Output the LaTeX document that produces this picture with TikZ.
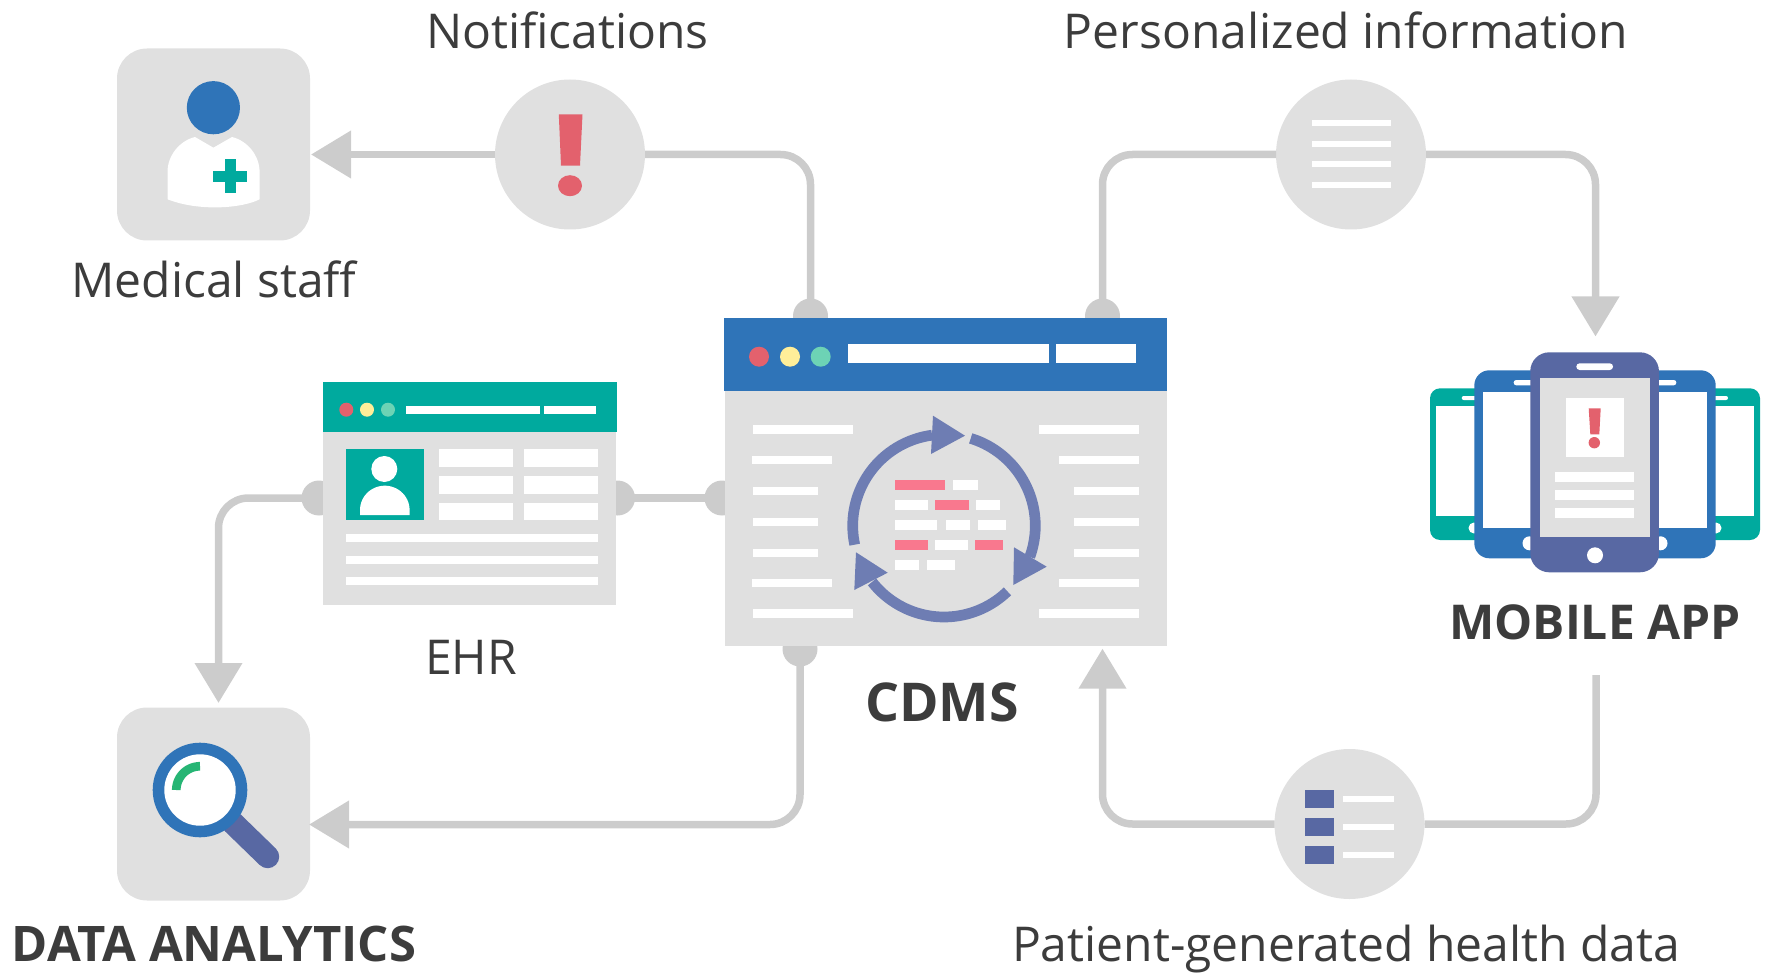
\documentclass[tikz,border=0pt]{standalone}
\usepackage{fontspec}
\setmainfont{Open Sans}
\usetikzlibrary{arrows.meta}
\definecolor{cblue}{HTML}{2F74B8}
\definecolor{cteal}{HTML}{00AA9E}
\definecolor{cindigo}{HTML}{5868A3}
\definecolor{cring}{HTML}{6E7DB3}
\definecolor{cgray}{HTML}{E0E0E0}
\definecolor{cline}{HTML}{CCCCCC}
\definecolor{cred}{HTML}{E3616D}
\definecolor{cyel}{HTML}{FFEE99}
\definecolor{cmint}{HTML}{6DD3B5}
\definecolor{cpink}{HTML}{F9788E}
\definecolor{cgreen}{HTML}{26B574}
\definecolor{ctext}{HTML}{3C3C3C}
\tikzset{
  base/.style={inner sep=0pt,outer sep=0pt,draw=none},
  iconbox/.style={base,rectangle,fill=cgray,rounded corners=30pt,minimum width=193pt,minimum height=192pt},
  topic/.style={base,circle,fill=cgray,minimum size=150pt},
  bump/.style={base,circle,fill=cline,minimum size=35pt},
  link/.style={draw=cline,line width=7.5pt,rounded corners=30pt},
  arrowlink/.style={link,-{Triangle[length=40pt,width=46pt]}},
  label/.style={base,text=ctext,font=\fontsize{48}{58}\selectfont,anchor=center},
  heavy/.style={base,text=ctext,font=\fontsize{49}{58}\selectfont\bfseries,anchor=center},
  wh/.style={fill=white},
  ph/.style={fill=cpink}
}
\begin{document}
\begin{tikzpicture}[x=1pt,y=-1pt]
\useasboundingbox (0,0) rectangle (1766,973);
% topic and icon nodes
\node[iconbox] (staff) at (213.5,144.5) {};
\node[iconbox,minimum height=193pt] (analytics) at (213.5,804) {};
\node[bump] (bumpA) at (810.5,316) {};
\node[bump] (bumpB) at (1102.5,316) {};
\node[bump] (bumpC) at (722,498) {};
\node[bump] (bumpD) at (800,649) {};
\node[bump] (bumpE) at (617.5,498) {};
\node[bump] (bumpL) at (319,498) {};
\node[topic] (notif) at (570,154.5) {};
\node[topic] (pinfo) at (1351,154.5) {};
\node[topic] (pgh) at (1349.5,824) {};
\coordinate (staffTip) at ([xshift=1pt]notif.west -| staff.east);
\coordinate (analyticsTip) at (309,824.5);
\coordinate (dataTip) at (218.5,703);
\coordinate (mobileTip) at (1595.5,336.5);
\coordinate (appDrop) at (1596,675);
\coordinate (cdmsTip) at (1102.5,648.6);
% connectors
\draw[arrowlink] (notif.west) -- (staffTip);
\draw[link] (notif.east) -| (bumpA.center);
\draw[link] (bumpB.center) |- (pinfo.west);
\draw[arrowlink] (pinfo.east) -| (mobileTip);
\draw[link] (bumpE.center) -- (bumpC.center);
\draw[arrowlink] (bumpL.center) -| (dataTip);
\draw[arrowlink] (bumpD.center) |- (analyticsTip);
\draw[link] (appDrop) |- (pgh.east);
\draw[arrowlink] (pgh.west) -| (cdmsTip);
% staff icon
\fill[cblue] (213.4,107.7) circle (26.6);
\fill[white] (195,137) -- (213.4,147.7) -- (232,137) .. controls (248,141) and (259.6,156) .. (259.6,172)
  -- (259.6,199.3) .. controls (243,208) and (200,212) .. (167.5,199.3) -- (167.5,172) .. controls (167.5,156) and (179,141) .. (195,137) -- cycle;
\fill[cteal] (224.8,159.3) rectangle (235.9,192.7);
\fill[cteal] (213,170.7) rectangle (247.4,181.7);
% notification icon
\fill[cred] (558.8,114.3) -- (582.5,114.3) -- (580,165.7) -- (561,165.7) -- cycle;
\fill[cred] (570,185.7) ellipse [x radius=12,y radius=10.5];
% personalized icon
\foreach \y in {122.7,144,164.4,184.7} \fill[wh] (1312,\y-3) rectangle (1391,\y+3);
% patient-generated icon
\foreach \y in {790,818,846} \fill[cindigo] (1305,\y) rectangle (1334,\y+18);
\foreach \y in {796,824,852} \fill[wh] (1343,\y) rectangle (1394,\y+6);
% analytics icon
\draw[cindigo,line width=23pt,line cap=round] (233,823) -- (267.7,856.7);
\fill[cblue] (200,790) circle (47.3);
\fill[white] (200,790) circle (35.7);
\draw[cgreen,line width=8.7pt] plot[domain=180:90,samples=30] ({200+23.7*cos(\x)},{790-23.7*sin(\x)});
% EHR window
\node[base,fill=cgray,minimum width=293pt,minimum height=223pt] (ehr) at (469.5,493.5) {};
\fill[cteal] (323,382) rectangle (617,432);
\fill[cred] (346.3,409.7) circle (7);
\fill[cyel] (367,409.7) circle (7);
\fill[cmint] (388,409.7) circle (7);
\fill[wh] (406,406) rectangle (540,414);
\fill[wh] (544,406) rectangle (596,414);
\fill[cteal] (346,449) rectangle (424,520);
\fill[white] (384.3,469) circle (13);
\fill[white] plot[domain=180:0,samples=30] ({384.8+24.8*cos(\x)},{510-24.3*sin(\x)}) -- (409.6,515) -- (360,515) -- cycle;
\foreach \a/\b in {449/467,476/494,503/520}{
  \fill[wh] (439,\a) rectangle (513,\b);
  \fill[wh] (524,\a) rectangle (598,\b);
}
\fill[wh] (346,534.3) rectangle (598,542);
\fill[wh] (346,556) rectangle (598,564);
\fill[wh] (346,577) rectangle (598,585);
% CDMS window
\node[base,fill=cgray,minimum width=442pt,minimum height=327.7pt] (cdms) at (946,482) {};
\fill[cblue] (724,318) rectangle (1167,391);
\fill[cred] (759,356.7) circle (10);
\fill[cyel] (790,356.7) circle (10);
\fill[cmint] (820.7,356.7) circle (10);
\fill[wh] (848,344) rectangle (1049,362.7);
\fill[wh] (1056,344) rectangle (1136,362.7);
\foreach \a/\b/\c/\d/\e in {425/434/753/853/1039,456/464/752/832/1059,487/495/753/818/1074,518/526/753/818/1074,549/557/753/818/1074,579/587/752/832/1059,609/618/753/853/1039}{
  \fill[wh] (\c,\a) rectangle (\d,\b);
  \fill[wh] (\e,\a) rectangle (1139,\b);
}
\fill[ph] (895,480) rectangle (945,490);
\fill[wh] (953,480) rectangle (978,490);
\fill[wh] (895,500) rectangle (928,510);
\fill[ph] (935,500) rectangle (969,510);
\fill[wh] (976,500) rectangle (1000,510);
\fill[wh] (895,520) rectangle (937,530);
\fill[wh] (946,520) rectangle (970,530);
\fill[wh] (978,520) rectangle (1006,530);
\fill[ph] (895,540) rectangle (928,550);
\fill[wh] (935,540) rectangle (968,550);
\fill[ph] (975,540) rectangle (1003,550);
\fill[wh] (895,560) rectangle (919,570);
\fill[wh] (927,560) rectangle (955,570);
\draw[cring,line width=10.7pt] plot[domain=192:97.5,samples=40] ({944+91.3*cos(\x)},{525.7-91.3*sin(\x)});
\draw[cring,line width=10.7pt] plot[domain=73:-20,samples=40] ({944+91.3*cos(\x)},{525.7-91.3*sin(\x)});
\draw[cring,line width=10.7pt] plot[domain=-46:-142,samples=40] ({944+91.3*cos(\x)},{525.7-91.3*sin(\x)});
\fill[cring] (933,415.7) -- (965,435.7) -- (931,454) -- cycle;
\fill[cring] (1014,547.3) -- (1046.7,566.7) -- (1013.3,585) -- cycle;
\fill[cring] (856,552.3) -- (887.7,572.7) -- (854.3,590) -- cycle;
% phones
\fill[cteal,rounded corners=10pt] (1430,388.3) rectangle (1760,540);
\fill[white] (1436,406.3) rectangle (1754,515.7);
\fill[white,rounded corners=2pt] (1461.7,396) rectangle (1490,400);
\fill[white,rounded corners=2pt] (1700,396) rectangle (1728,400);
\fill[white] (1474,528) circle (5.5);
\fill[white] (1716,528) circle (5.5);
\fill[cblue,rounded corners=15pt] (1474.3,370.3) rectangle (1715.7,558.3);
\fill[white] (1482.7,392.3) rectangle (1707.3,528);
\fill[white,rounded corners=2.5pt] (1513.7,380) rectangle (1540,385.3);
\fill[white,rounded corners=2.5pt] (1650,380) rectangle (1676.3,385.3);
\fill[white] (1529.5,543.3) circle (7);
\fill[white] (1660.5,543.3) circle (7);
\node[base,fill=cindigo,rounded corners=19pt,minimum width=128.7pt,minimum height=220pt] (phone) at (1594.6,462.3) {};
\fill[cgray] (1540,378.3) rectangle (1649.7,537);
\fill[white,rounded corners=3.3pt] (1576.3,363.3) rectangle (1613,370);
\fill[white] (1595,555.3) circle (8);
\fill[white] (1566,398) rectangle (1624,456.7);
\fill[cred] (1588.7,408.3) -- (1600.7,408.3) -- (1599.3,434.3) -- (1590.3,434.3) -- cycle;
\fill[cred] (1594.3,442.7) circle (5.7);
\fill[wh] (1555,472) rectangle (1634,482);
\fill[wh] (1555,490) rectangle (1634,500);
\fill[wh] (1555,508) rectangle (1634,518);
% labels
\node[label] (tNotif) at (567.5,30) {Notifications};
\node[label] (tPinfo) at (1346,30) {Personalized information};
\node[label] (tStaff) at (214,279) {Medical staff};
\node[label] (tEhr) at (471,657) {EHR};
\node[heavy,font=\fontsize{53.5}{60}\selectfont\bfseries] (tCdms) at (942,702) {CDMS};
\node[heavy,font=\fontsize{48}{58}\selectfont\bfseries] (tApp) at (1595,622) {MOBILE APP};
\node[heavy] (tData) at (214,944) {DATA ANALYTICS};
\node[label] (tPgh) at (1346,949) {Patient-generated health data};
\end{tikzpicture}
\end{document}
